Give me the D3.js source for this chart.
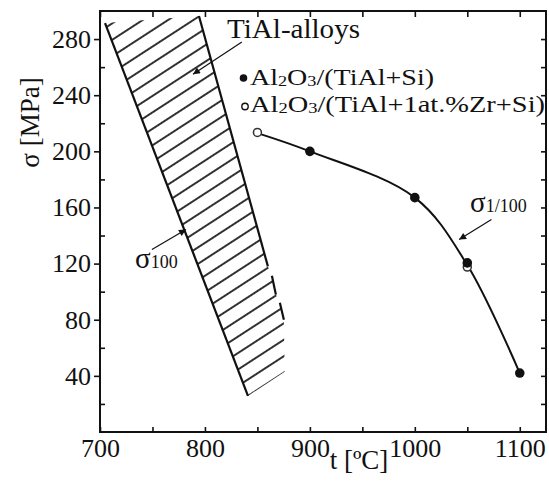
<!DOCTYPE html>
<html>
<head>
<meta charset="utf-8">
<script src="https://cdn.jsdelivr.net/npm/d3@7"></script>
<style>
  html, body { margin: 0; padding: 0; background: #fff; }
  svg { display: block; font-family: "Liberation Serif", "Times New Roman", serif; }
</style>
</head>
<body>
<div id="chart"></div>
<script>
const W = 549, H = 481;
const margin = { top: 11, right: 3, bottom: 49, left: 100 };

// axis ticks
const tTicks = [700, 800, 900, 1000, 1100];
const tMinor = [750, 850, 950, 1050];
const sTicks = [40, 80, 120, 160, 200, 240, 280];
const sMinor = [20, 60, 100, 140, 180, 220, 260];

// sigma_1/100 curve (t, MPa)
const curveT = [850, 900, 1000, 1050, 1100];
const curveS = [213, 200, 167, 119, 42];

// Al2O3/(TiAl+Si) - filled
const filledT = [900, 1000, 1050, 1100];
const filledS = [200, 167, 120.5, 42];

// Al2O3/(TiAl+1at.%Zr+Si) - open
const openT = [850, 1050];
const openS = [213.5, 117.5];

// TiAl-alloys sigma_100 band
const bandLeft = [[704.8, 291.4], [841, 25.7]];
const bandRight = [
    [[794.3, 296.4], [860, 118]],
    [[863.8, 111.4], [867.6, 97.9]],
    [[871.4, 92.1], [875.2, 80]]
];
const bandOutline = [[704.8, 291.4], [794.3, 296.4], [860, 118], [863.8, 111.4], [867.6, 97.9],
    [871.4, 92.1], [875.2, 80], [876, 43], [841, 25.7]];

const x = d3.scaleLinear().domain([700, 1125]).range([margin.left, W - margin.right]);
const y = d3.scaleLinear().domain([0, 300]).range([H - margin.bottom, margin.top]);

const svg = d3.select('#chart').append('svg')
    .attr('width', W)
    .attr('height', H);

const defs = svg.append('defs');

defs.append('clipPath').attr('id', 'bandClip')
    .append('path')
    .attr('d', d3.line().x(d => x(d[0])).y(d => y(d[1]))(bandOutline) + 'Z');

const hatch = 13.8;
defs.append('pattern')
    .attr('id', 'hatch')
    .attr('patternUnits', 'userSpaceOnUse')
    .attr('width', hatch)
    .attr('height', hatch)
    .attr('patternTransform', `translate(${x(841)},${y(25.7)}) rotate(-33) translate(0,${-hatch / 2})`)
    .append('line')
    .attr('x1', -1).attr('x2', hatch + 1)
    .attr('y1', hatch / 2).attr('y2', hatch / 2)
    .attr('stroke', '#000')
    .attr('stroke-width', 1.6);

defs.append('marker')
    .attr('id', 'arrow')
    .attr('viewBox', '0 0 10 10')
    .attr('refX', 10).attr('refY', 5)
    .attr('markerWidth', 11).attr('markerHeight', 7)
    .attr('markerUnits', 'userSpaceOnUse')
    .attr('orient', 'auto')
    .append('path')
    .attr('d', 'M0,0 L10,5 L0,10 Z')
    .attr('fill', '#111');

// hatched band
svg.append('rect')
    .attr('x', x(700)).attr('y', y(300))
    .attr('width', x(900) - x(700)).attr('height', y(0) - y(300))
    .attr('fill', 'url(#hatch)')
    .attr('clip-path', 'url(#bandClip)');

const seg = d3.line().x(d => x(d[0])).y(d => y(d[1]));

svg.append('path')
    .attr('d', seg(bandLeft))
    .attr('fill', 'none').attr('stroke', '#111').attr('stroke-width', 2.2);

svg.selectAll('path.bright')
    .data(bandRight)
    .join('path')
    .attr('class', 'bright')
    .attr('d', d => seg(d))
    .attr('fill', 'none').attr('stroke', '#111').attr('stroke-width', 2.2);

// axes
function styleAxis(g) {
    g.select('.domain').remove();
    g.selectAll('line').attr('stroke', '#111').attr('stroke-width', 1.6);
    g.selectAll('text')
        .attr('font-family', '"Liberation Serif", "Times New Roman", serif')
        .attr('font-size', 26)
        .attr('fill', '#111');
}

svg.append('g')
    .attr('transform', `translate(0,${y(0)})`)
    .call(d3.axisBottom(x).tickValues(tTicks).tickSize(-5).tickPadding(7).tickFormat(d3.format('d')))
    .call(styleAxis);
svg.append('g')
    .attr('transform', `translate(0,${y(0)})`)
    .call(d3.axisBottom(x).tickValues(tMinor).tickSize(-5).tickFormat(''))
    .call(styleAxis);
svg.append('g')
    .attr('transform', `translate(0,${y(300)})`)
    .call(d3.axisTop(x).tickValues(tTicks.concat(tMinor)).tickSize(-6).tickFormat(''))
    .call(styleAxis);

svg.append('g')
    .attr('transform', `translate(${x(700)},0)`)
    .call(d3.axisLeft(y).tickValues(sTicks).tickSize(6).tickPadding(3).tickFormat(d3.format('d')))
    .call(styleAxis);
svg.append('g')
    .attr('transform', `translate(${x(700)},0)`)
    .call(d3.axisLeft(y).tickValues(sMinor).tickSize(-5).tickFormat(''))
    .call(styleAxis);
svg.append('g')
    .attr('transform', `translate(${x(1125)},0)`)
    .call(d3.axisRight(y).tickValues(sTicks.concat(sMinor)).tickSize(-5).tickFormat(''))
    .call(styleAxis);

// frame
svg.append('rect')
    .attr('x', x(700)).attr('y', y(300))
    .attr('width', x(1125) - x(700)).attr('height', y(0) - y(300))
    .attr('fill', 'none')
    .attr('stroke', '#111')
    .attr('stroke-width', 2);

// axis titles
svg.append('text')
    .attr('transform', `translate(39,${(y(300) + y(0)) / 2 - 99}) rotate(-90)`)
    .attr('text-anchor', 'middle')
    .attr('font-size', 27)
    .attr('fill', '#111')
    .text('σ [MPa]');

svg.append('text')
    .attr('x', 359).attr('y', 469)
    .attr('text-anchor', 'middle')
    .attr('font-size', 27)
    .attr('fill', '#111')
    .text('t [ºC]');

// sigma_1/100 curve
const curvePts = curveT.map((t, i) => [t, curveS[i]]);
svg.append('path')
    .attr('d', d3.line().x(d => x(d[0])).y(d => y(d[1])).curve(d3.curveCatmullRom.alpha(0.5))(curvePts))
    .attr('fill', 'none')
    .attr('stroke', '#111')
    .attr('stroke-width', 2);

svg.selectAll('circle.open')
    .data(openT.map((t, i) => [t, openS[i]]))
    .join('circle')
    .attr('class', 'open')
    .attr('cx', d => x(d[0])).attr('cy', d => y(d[1]))
    .attr('r', 4)
    .attr('fill', '#fff')
    .attr('stroke', '#333')
    .attr('stroke-width', 1.5);

svg.selectAll('circle.filled')
    .data(filledT.map((t, i) => [t, filledS[i]]))
    .join('circle')
    .attr('class', 'filled')
    .attr('cx', d => x(d[0])).attr('cy', d => y(d[1]))
    .attr('r', 4.8)
    .attr('fill', '#111');

// annotations
function arrow(from, to) {
    svg.append('line')
        .attr('x1', x(from[0])).attr('y1', y(from[1]))
        .attr('x2', x(to[0])).attr('y2', y(to[1]))
        .attr('stroke', '#111')
        .attr('stroke-width', 1.2)
        .attr('marker-end', 'url(#arrow)');
}
arrow([835.2, 277.9], [788.6, 255]);
arrow([1073, 151.4], [1042.2, 137.1]);
arrow([749.5, 130], [781.9, 144.3]);

svg.append('text')
    .attr('x', 227).attr('y', 38)
    .attr('font-size', 27)
    .attr('textLength', 133)
    .attr('lengthAdjust', 'spacingAndGlyphs')
    .attr('fill', '#111')
    .text('TiAl-alloys');

function chem(xp, yp, len, rest) {
    const t = svg.append('text')
        .attr('x', xp).attr('y', yp)
        .attr('font-size', 23)
        .attr('textLength', len)
        .attr('lengthAdjust', 'spacingAndGlyphs')
        .attr('fill', '#111');
    t.append('tspan').text('Al');
    t.append('tspan').attr('font-size', 15).attr('dy', 1).text('2');
    t.append('tspan').attr('dy', -1).text('O');
    t.append('tspan').attr('font-size', 15).attr('dy', 1).text('3');
    t.append('tspan').attr('dy', -1).text(rest);
}

svg.append('circle').attr('cx', 243.5).attr('cy', 78).attr('r', 3.8).attr('fill', '#111');
chem(250, 85, 184, '/(TiAl+Si)');
svg.append('circle').attr('cx', 245).attr('cy', 106.5).attr('r', 3.2)
    .attr('fill', '#fff').attr('stroke', '#111').attr('stroke-width', 1.4);
chem(250, 112, 295, '/(TiAl+1at.%Zr+Si)');

function sigma(xp, yp, sub) {
    const t = svg.append('text')
        .attr('x', xp).attr('y', yp)
        .attr('fill', '#111');
    t.append('tspan').attr('font-size', 29).text('σ');
    t.append('tspan').attr('font-size', 18).text(sub);
}
sigma(470, 212, '1/100');
sigma(135, 268, '100');
</script>
</body>
</html>
